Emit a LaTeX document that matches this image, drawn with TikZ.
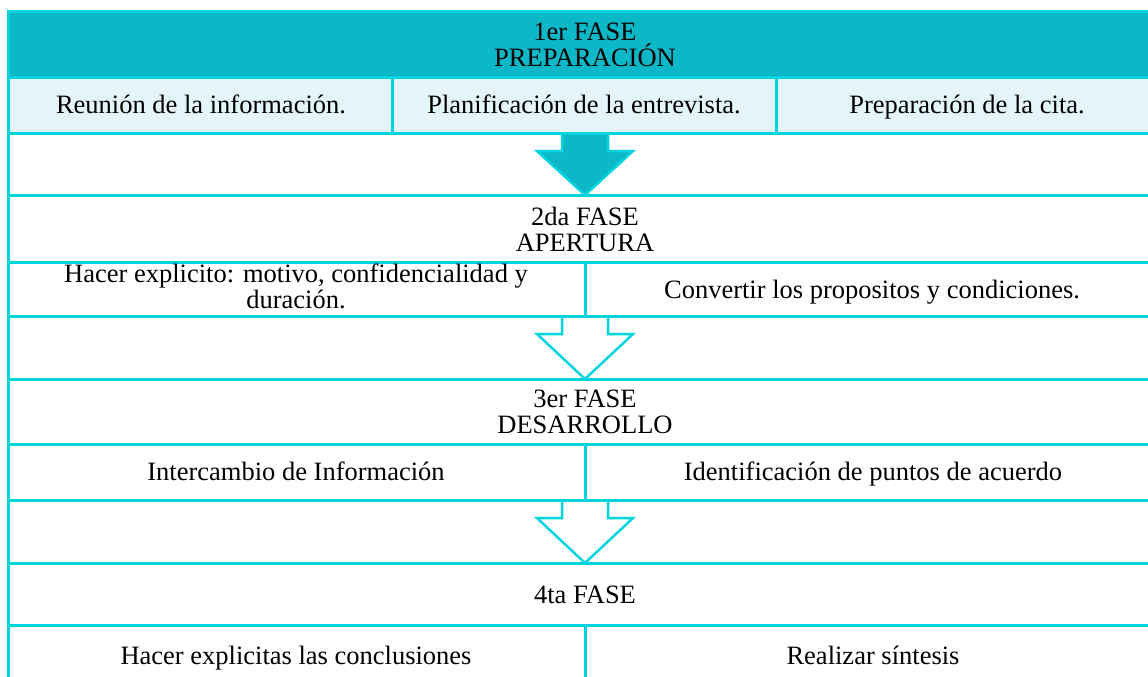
\documentclass[tikz,border=0pt]{standalone}
\usepackage{fontspec}
\newfontfamily\tnrfont{LiberationSerif}[Extension=.ttf, UprightFont=*-Regular, BoldFont=*-Bold]
\definecolor{lineC}{HTML}{00D4DE}
\definecolor{headC}{HTML}{0CB8C7}
\definecolor{lightC}{HTML}{E3F5F8}
\begin{document}
\begin{tikzpicture}[x=1pt,y=-1pt,
  txt/.style={inner sep=0pt, font=\tnrfont\fontsize{26.5}{26}\selectfont, text=black},
  mtxt/.style={txt, align=center},
  grid/.style={draw=lineC, line width=3pt},
  barrow/.style={draw=lineC, line width=2.5pt, line join=miter}]
\useasboundingbox (0,0) rectangle (1148,677);
% fills
\fill[headC] (8,12) rectangle (1148,77);
\fill[lightC] (8,77) rectangle (1148,133);
% block arrows
\draw[barrow, fill=headC] (562,133) -- (562,151) -- (537,151) -- (585,195) -- (633,151) -- (608,151) -- (608,133);
\draw[barrow, fill=white] (562,316) -- (562,334) -- (537,334) -- (585,379) -- (633,334) -- (608,334) -- (608,316);
\draw[barrow, fill=white] (562,500) -- (562,518) -- (537,518) -- (585,563) -- (633,518) -- (608,518) -- (608,500);
% grid lines
\foreach \yy in {12,77,133,195,262,316,379,444,500,563,625}
  \draw[grid] (8,\yy) -- (1148,\yy);
\draw[grid] (8,10.5) -- (8,677);
\draw[grid] (392,77) -- (392,133);
\draw[grid] (776,77) -- (776,133);
\draw[grid] (585,262) -- (585,316);
\draw[grid] (585,444) -- (585,500);
\draw[grid] (585,625) -- (585,677);
% texts
\node[mtxt] (f1) at (585,45) {1er FASE\\PREPARACIÓN};
\node[txt, anchor=base] (r1) at (201,113) {Reunión de la información.};
\node[txt, anchor=base] (p1) at (584,113) {Planificación de la entrevista.};
\node[txt, anchor=base] (c1) at (967,113) {Preparación de la cita.};
\node[mtxt] (f2) at (585,229) {2da FASE\\APERTURA};
\node[mtxt, anchor=north] (h2) at (296,264) {Hacer explicito: motivo, confidencialidad y\\duración.};
\node[txt, anchor=base] (v2) at (872,298) {Convertir los propositos y condiciones.};
\node[mtxt] (f3) at (585,412) {3er FASE\\DESARROLLO};
\node[txt, anchor=base] (i3) at (296,480) {Intercambio de Información};
\node[txt, anchor=base] (d3) at (873,480) {Identificación de puntos de acuerdo};
\node[txt, anchor=base] (f4) at (585,603) {4ta FASE};
\node[txt, anchor=base] (h4) at (296,664) {Hacer explicitas las conclusiones};
\node[txt, anchor=base] (s4) at (873,664) {Realizar síntesis};
\end{tikzpicture}
\end{document}
